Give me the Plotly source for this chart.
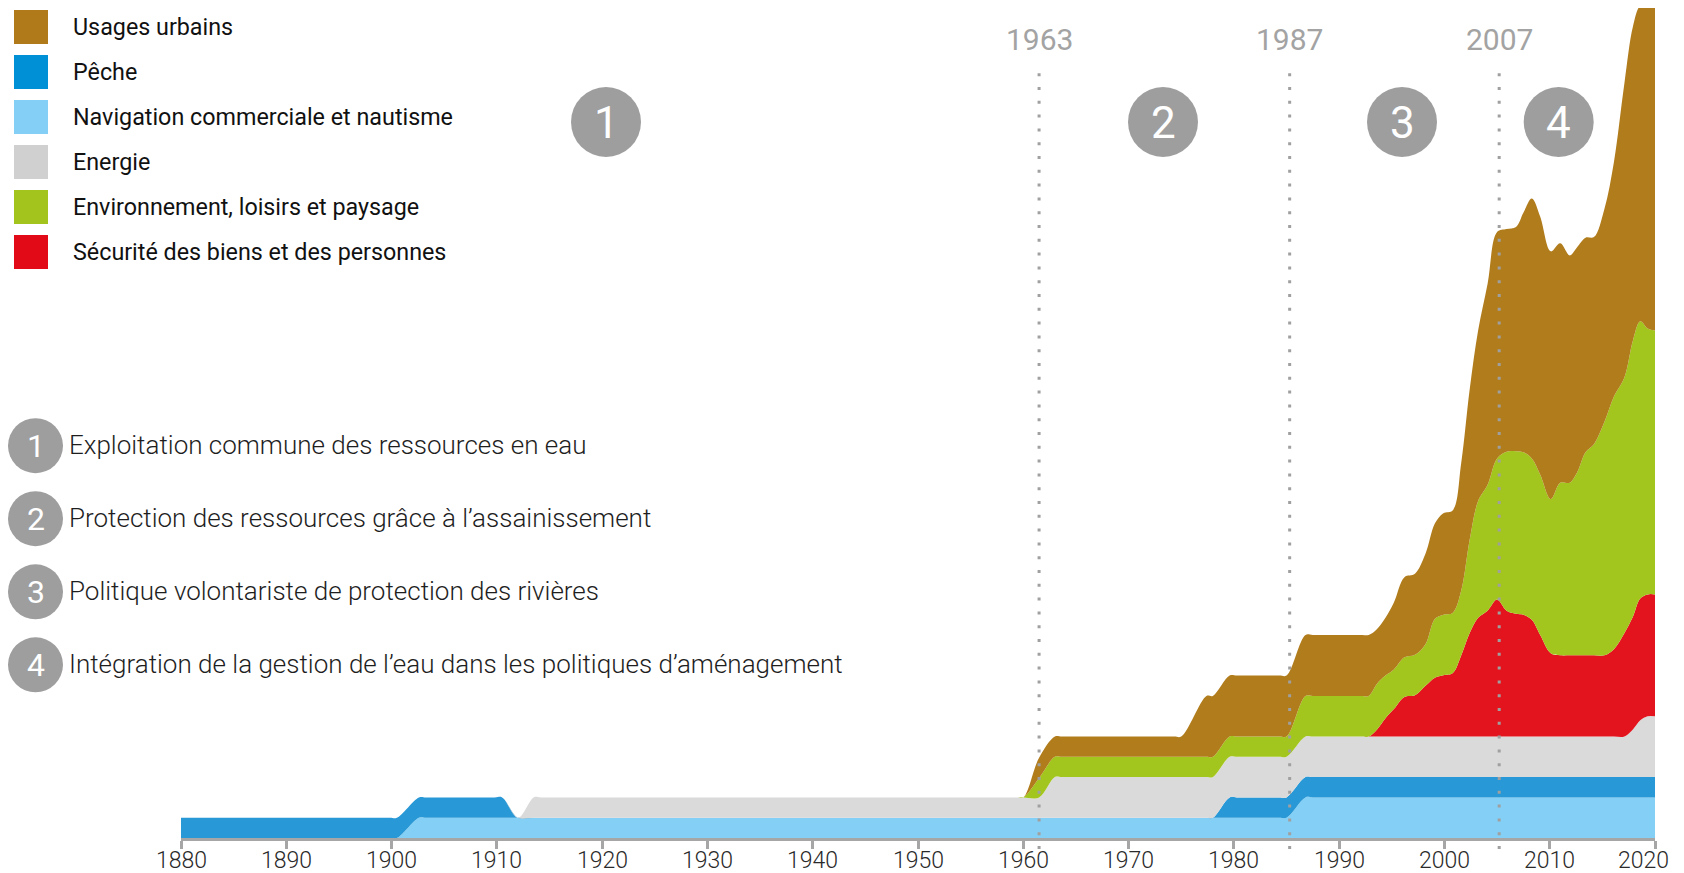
import plotly.graph_objects as go

# ---------------- data ----------------
years = [1880, 1899.8, 1900.5, 1902.6, 1903.3, 1909.8, 1910.5, 1912.0, 1913.5, 1914.2,
         1959.3, 1960.0, 1961.5, 1963.0, 1963.7, 1974.3, 1975.0, 1977.4, 1978.0, 1979.6,
         1980.3, 1984.3, 1985.0, 1986.8, 1987.5, 1992.1, 1992.8, 1993.6, 1994.4, 1995.2,
         1996.2, 1997.2, 1998.2, 1999.1, 1999.9, 2000.8, 2001.6, 2002.4, 2003.2, 2004.1,
         2005.0, 2005.9, 2006.8, 2007.5, 2008.3, 2009.1, 2010.1, 2011.0, 2011.9, 2012.6,
         2013.4, 2014.2, 2015.2, 2016.1, 2017.1, 2017.9, 2018.6, 2019.3, 2020]

navigation = [0, 0, 0, 1, 1, 1, 1, 1, 1, 1,
              1, 1, 1, 1, 1, 1, 1, 1, 1, 1,
              1, 1, 1, 2, 2, 2, 2, 2, 2, 2,
              2, 2, 2, 2, 2, 2, 2, 2, 2, 2,
              2, 2, 2, 2, 2, 2, 2, 2, 2, 2,
              2, 2, 2, 2, 2, 2, 2, 2, 2]

peche = [1, 1, 1, 1, 1, 1, 1, 0, 0, 0,
         0, 0, 0, 0, 0, 0, 0, 0, 0, 1,
         1, 1, 1, 1, 1, 1, 1, 1, 1, 1,
         1, 1, 1, 1, 1, 1, 1, 1, 1, 1,
         1, 1, 1, 1, 1, 1, 1, 1, 1, 1,
         1, 1, 1, 1, 1, 1, 1, 1, 1]

energie = [0, 0, 0, 0, 0, 0, 0, 0, 1, 1,
           1, 1, 1, 2, 2, 2, 2, 2, 2, 2,
           2, 2, 2, 2, 2, 2, 2, 2, 2, 2,
           2, 2, 2, 2, 2, 2, 2, 2, 2, 2,
           2, 2, 2, 2, 2, 2, 2, 2, 2, 2,
           2, 2, 2, 2, 2, 2.35, 2.8, 3, 3]

securite = [0, 0, 0, 0, 0, 0, 0, 0, 0, 0,
            0, 0, 0, 0, 0, 0, 0, 0, 0, 0,
            0, 0, 0, 0, 0, 0, 0, 0.35, 0.9, 1.35,
            1.95, 2.03, 2.5, 2.9, 3.02, 3.13, 4.0, 5.1, 5.85, 6.2,
            6.75, 6.2, 6.05, 6.0, 5.75, 5.0, 4.1, 4.0, 4.0, 4.0,
            4.0, 4.0, 4.0, 4.3, 5.1, 5.55, 6.0, 6.0, 6.0]

environnement = [0, 0, 0, 0, 0, 0, 0, 0, 0, 0,
                 0, 0, 0.95, 1, 1, 1, 1, 1, 1, 1,
                 1, 1, 1, 2, 2, 2, 2.0, 2.25, 2.1, 1.95,
                 1.95, 2.0, 2.05, 2.9, 2.98, 2.97, 3.2, 4.6, 5.75, 6.2,
                 6.95, 7.83, 8.0, 8.0, 7.95, 7.9, 7.6, 8.5, 8.5, 9.0,
                 10.0, 10.4, 11.5, 12.45, 12.6, 13.6, 13.65, 13.1, 13.0]

urbains = [0, 0, 0, 0, 0, 0, 0, 0, 0, 0,
           0, 0, 1.0, 1, 1, 1, 1, 3, 3, 3,
           3, 3, 3, 3, 3, 3, 3.0, 2.7, 2.85, 3.3,
           3.95, 3.99, 4.45, 4.7, 5.0, 5.05, 6.3, 7.4, 8.4, 9.9,
           11.15, 10.97, 11.05, 11.8, 12.8, 12.7, 12.2, 11.8, 11.2, 11.1,
           10.57, 10.2, 10.5, 11.55, 14.5, 15.46, 15.55, 15.95, 16.05]

x_ticks = [1880, 1890, 1900, 1910, 1920, 1930, 1940, 1950, 1960, 1970, 1980, 1990, 2000, 2010, 2020]
x_tick_text = ["1880", "1890", "1900", "1910", "1920", "1930", "1940", "1950", "1960", "1970",
               "1980", "1990", "2000", "2010", "2020"]

legend_labels = ["Usages urbains", "Pêche", "Navigation commerciale et nautisme", "Energie",
                 "Environnement, loisirs et paysage", "Sécurité des biens et des personnes"]
legend_colors = ["#b07a1b", "#0090d5", "#84cff5", "#d0d0d0", "#a3c41c", "#e30a17"]

phase_numbers = ["1", "2", "3", "4"]
phase_texts = ["Exploitation commune des ressources en eau",
               "Protection des ressources grâce à l’assainissement",
               "Politique volontariste de protection des rivières",
               "Intégration de la gestion de l’eau dans les politiques d’aménagement"]

milestone_labels = ["1963", "1987", "2007"]
milestone_x = [1961.5, 1985.3, 2005.2]

# ---------------- layout helpers ----------------
# the page body adds an 8px margin, so the figure is 8px smaller than the window
OFF = 8
W, H = 1684 - OFF, 873 - OFF
ML, MR, MT, MB = 181 - OFF, 29, 0, 35
PW = W - ML - MR
PH = H - MT - MB
UNIT = 20.3


def px(x):
    """page pixel x -> paper x"""
    return (x - OFF - ML) / PW


def py(y):
    """page pixel y -> paper y"""
    return (H - MB - (y - OFF)) / PH


ROBOTO = "Roboto, Arial, sans-serif"

fig = go.Figure()

series = [
    ("Navigation commerciale et nautisme", navigation, "#84cff5"),
    ("Pêche", peche, "#2898d6"),
    ("Energie", energie, "#dadada"),
    ("Sécurité des biens et des personnes", securite, "#e3141d"),
    ("Environnement, loisirs et paysage", environnement, "#a3c61f"),
    ("Usages urbains", urbains, "#b17c1c"),
]
for name, vals, col in series:
    fig.add_trace(go.Scatter(
        x=years, y=vals, name=name, mode="lines", stackgroup="one",
        line=dict(width=0, shape="spline", smoothing=1.0, color=col),
        fillcolor=col, showlegend=False, hoverinfo="x+y+name"))

shapes = []
annotations = []

# x tick labels (the last one is pulled inwards, as in the original)
for tv, tt in zip(x_ticks, x_tick_text):
    annotations.append(dict(x=tv, xref="x", y=py(860.5), yref="paper", text=tt,
                            showarrow=False, xanchor="center", yanchor="middle",
                            xshift=-12 if tv == x_ticks[-1] else 0,
                            font=dict(family=ROBOTO, size=23, color="#2a2a2a", weight=300)))

# milestone dotted lines and labels
for lab, xv in zip(milestone_labels, milestone_x):
    shapes.append(dict(type="line", xref="x", yref="paper", x0=xv, x1=xv,
                       y0=py(849), y1=py(68), layer="above",
                       line=dict(color="#a0a0a0", width=3, dash="3px,10.8px")))
    annotations.append(dict(x=xv, xref="x", y=py(39), yref="paper", text=lab,
                            showarrow=False, xanchor="center", yanchor="middle",
                            font=dict(family=ROBOTO, size=30, color="#a3a3a3")))

# big phase circles above the chart
top_centers = [606, 1163, 1402, 1558.7]
for num, cx in zip(phase_numbers, top_centers):
    r = 35
    shapes.append(dict(type="circle", xref="paper", yref="paper",
                       x0=px(cx - r), x1=px(cx + r), y0=py(122 + r), y1=py(122 - r),
                       fillcolor="#9e9e9e", line=dict(width=0), layer="above"))
    annotations.append(dict(x=px(cx), y=py(123), xref="paper", yref="paper", text=num,
                            showarrow=False, xanchor="center", yanchor="middle",
                            font=dict(family=ROBOTO, size=44, color="white")))

# phase list on the left
list_y = [445.7, 518.7, 591.8, 664.8]
for num, txt, cy in zip(phase_numbers, phase_texts, list_y):
    r = 27.5
    cx = 35.5
    shapes.append(dict(type="circle", xref="paper", yref="paper",
                       x0=px(cx - r), x1=px(cx + r), y0=py(cy + r), y1=py(cy - r),
                       fillcolor="#9e9e9e", line=dict(width=0)))
    annotations.append(dict(x=px(cx), y=py(cy), xref="paper", yref="paper", text=num,
                            showarrow=False, xanchor="center", yanchor="middle",
                            font=dict(family=ROBOTO, size=32, color="white")))
    annotations.append(dict(x=px(67), y=py(cy - 1), xref="paper", yref="paper", text=txt,
                            showarrow=False, xanchor="left", yanchor="middle",
                            font=dict(family=ROBOTO, size=26, color="#1e1e1e", weight=300)))

# custom legend
leg_y = [27, 72, 117, 162, 207, 252]
for lab, col, cy in zip(legend_labels, legend_colors, leg_y):
    shapes.append(dict(type="rect", xref="paper", yref="paper",
                       x0=px(14), x1=px(48), y0=py(cy + 17), y1=py(cy - 17),
                       fillcolor=col, line=dict(width=0)))
    annotations.append(dict(x=px(71), y=py(cy), xref="paper", yref="paper", text=lab,
                            showarrow=False, xanchor="left", yanchor="middle",
                            font=dict(family=ROBOTO, size=23.3, color="#111111")))

fig.update_layout(
    width=W, height=H,
    margin=dict(l=ML, r=MR, t=MT, b=MB, pad=0, autoexpand=False),
    paper_bgcolor="white", plot_bgcolor="white",
    shapes=shapes, annotations=annotations,
    showlegend=False,
    xaxis=dict(range=[1880, 2020], tickvals=x_ticks, showticklabels=False,
               showgrid=False, zeroline=False, showline=True, linecolor="#a6a6a6",
               linewidth=3, ticks="outside", ticklen=8, tickwidth=3, tickcolor="#a6a6a6"),
    yaxis=dict(range=[0, PH / UNIT], visible=False, showgrid=False, zeroline=False),
)

fig.write_html("out.html")
